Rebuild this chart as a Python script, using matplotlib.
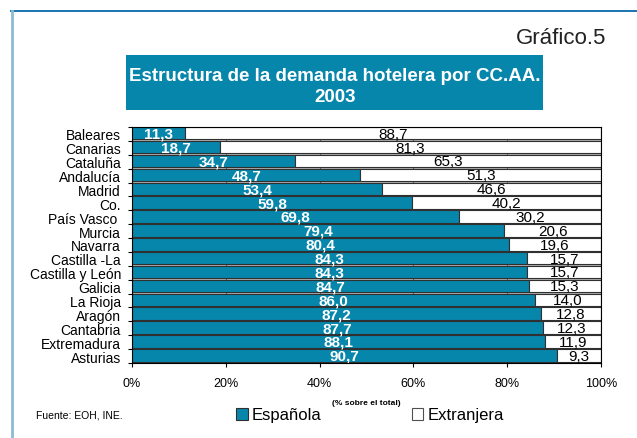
import numpy as np
import matplotlib
matplotlib.use("Agg")
import matplotlib.pyplot as plt
from matplotlib.patches import Patch, Rectangle
from matplotlib.lines import Line2D

plt.rcParams['font.family'] = ['Liberation Sans', 'DejaVu Sans']

# data
regiones = ["Baleares", "Canarias", "Cataluña", "Andalucía", "Madrid", "Co.",
            "País Vasco ", "Murcia", "Navarra", "Castilla -La", "Castilla y León",
            "Galicia", "La Rioja", "Aragón", "Cantabria", "Extremadura", "Asturias"]
espanola = [11.3, 18.7, 34.7, 48.7, 53.4, 59.8, 69.8, 79.4, 80.4,
            84.3, 84.3, 84.7, 86.0, 87.2, 87.7, 88.1, 90.7]
extranjera = [88.7, 81.3, 65.3, 51.3, 46.6, 40.2, 30.2, 20.6, 19.6,
              15.7, 15.7, 15.3, 14.0, 12.8, 12.3, 11.9, 9.3]
xticks = [0, 20, 40, 60, 80, 100]

TEAL = "#0786AC"
W, H = 637, 439

fig = plt.figure(figsize=(W / 100, H / 100), dpi=100)
ax = fig.add_axes([132 / W, 1 - 364 / H, (601 - 132) / W, (364 - 128) / H])

y = np.arange(len(regiones))
esp = np.array(espanola)
ext = np.array(extranjera)

# grey shadow under each bar, then the two stacked series
ax.barh(y - 0.4, esp + ext, height=0.9, align='edge', color="#b0b0b0", zorder=1)
ax.barh(y - 0.5, esp, height=0.9, align='edge', color=TEAL,
        edgecolor="#303030", linewidth=0.8, zorder=3)
ax.barh(y - 0.5, ext, left=esp, height=0.9, align='edge', color="white",
        edgecolor="#303030", linewidth=0.8, zorder=3)

def fmt(v):
    return f"{v:.1f}".replace(".", ",")

for i in range(len(regiones)):
    ax.text(esp[i] / 2, y[i] - 0.02, fmt(esp[i]), ha='center', va='center',
            color='white', fontweight='bold', fontsize=11, zorder=4)
    ax.text(esp[i] + ext[i] / 2, y[i] - 0.02, fmt(ext[i]), ha='center', va='center',
            color='black', fontsize=11, zorder=4)

ax.set_xlim(0, 100)
ax.set_ylim(len(regiones) - 0.5, -0.5)
ax.set_xticks(xticks)
ax.set_xticklabels([f"{t}%" for t in xticks])
ax.set_yticks(y)
ax.set_yticklabels(regiones)
ax.set_yticks(np.arange(-0.5, len(regiones)), minor=True)
ax.tick_params(axis='y', which='major', length=0, pad=8, labelsize=10)
ax.tick_params(axis='y', which='minor', length=3, width=0.8, direction='out')
ax.tick_params(axis='x', length=3, width=0.8, direction='out', pad=7, labelsize=9)
ax.xaxis.grid(True, color="#606060", linewidth=0.8, zorder=2)
ax.set_axisbelow(False)
for s in ax.spines.values():
    s.set_linewidth(0.8)
    s.set_zorder(5)
ax.set_xlabel("(% sobre el total)", fontsize=6, fontweight='bold', labelpad=7)

# title box
fig.patches.append(Rectangle((126 / W, 1 - 111 / H), (543 - 126) / W, (111 - 56) / H,
                             transform=fig.transFigure, facecolor=TEAL, edgecolor='none'))
fig.text(335 / W, 1 - 77 / H, "Estructura de la demanda hotelera por CC.AA.",
         ha='center', va='center', color='white', fontweight='bold', fontsize=13.5)
fig.text(335 / W, 1 - 97 / H, "2003", ha='center', va='center', color='white',
         fontweight='bold', fontsize=13.5)
fig.text(606 / W, 1 - 39 / H, "Gráfico.5", ha='right', va='center', fontsize=16,
         color="#222222")

# frame lines
fig.add_artist(Line2D([11 / W, 1], [1 - 12.3 / H, 1 - 12.3 / H], color="#1a73b0",
                      linewidth=1.4, transform=fig.transFigure))
fig.add_artist(Line2D([11.5 / W, 11.5 / W], [0, 1 - 12.3 / H], color="#8cbcd2",
                      linewidth=2, transform=fig.transFigure))

fig.text(36 / W, 1 - 416 / H, "Fuente: EOH, INE.", ha='left', va='center', fontsize=7.5)

handles = [Patch(facecolor=TEAL, edgecolor="#303030", linewidth=0.8),
           Patch(facecolor='white', edgecolor="#505050", linewidth=0.8)]
fig.legend(handles, ["Española", "Extranjera"], loc='center left',
           bbox_to_anchor=(236 / W, 1 - 416 / H), ncol=2, frameon=False,
           fontsize=12, handlelength=0.7, handleheight=0.7, handletextpad=0.25,
           columnspacing=5.4, borderpad=0, borderaxespad=0)

fig.savefig("out.png", dpi=100)
